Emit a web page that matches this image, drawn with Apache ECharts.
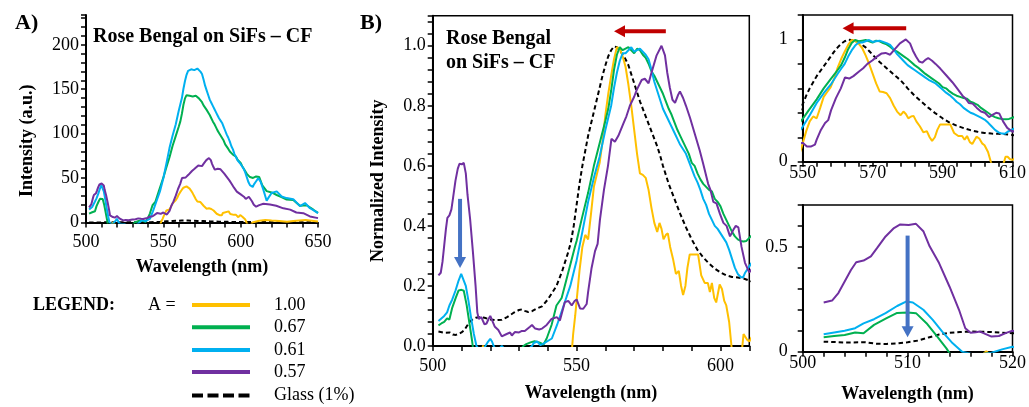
<!DOCTYPE html>
<html><head><meta charset="utf-8">
<script src="https://cdn.jsdelivr.net/npm/echarts@6/dist/echarts.min.js"></script>
<style>html,body{margin:0;padding:0;background:#fff}#c{width:1029px;height:407px}</style>
</head><body><div id="c"></div>
<script>
// ---------- DATA ----------
const seriesNames = ['1.00', '0.67', '0.61', '0.57', 'Glass (1%)'];
const seriesColors = ['#FFC000', '#00B050', '#00B0F0', '#7030A0', '#000000'];
// raw intensity (a.u.) at normalized value 1 for each spectrum (panel A peaks)
const peakIntensity = [41, 144, 175, 72.5, 2.2];

// normalized spectra: [wavelength (nm), normalized intensity]
const yellowNorm = [[502,-0.4],[508,-0.35],[514,-0.15],[517.5,0.002],[520,-0.12],[528,-0.3],[538,-0.3],[545,-0.2],[548,-0.06],[548.8,0.04],[549.5,0.1],[550,0.15],[551,0.25],[552,0.33],[553,0.37],[554,0.355],[555,0.44],[556,0.53],[557,0.57],[558,0.61],[559,0.68],[560,0.77],[561,0.84],[562,0.9],[563,0.955],[564,0.995],[565,0.99],[566,0.965],[567,0.93],[568,0.87],[569,0.8],[570,0.72],[571,0.64],[572,0.575],[573,0.57],[574,0.56],[575,0.52],[576,0.46],[577,0.41],[578,0.38],[578.8,0.41],[579.5,0.39],[580.2,0.355],[581,0.37],[581.7,0.375],[582.5,0.33],[583.5,0.29],[584.5,0.24],[585.5,0.25],[586.3,0.2],[587,0.17],[587.8,0.2],[588.5,0.26],[589.3,0.305],[592.2,0.305],[593.3,0.235],[594.5,0.21],[595.6,0.21],[596.3,0.18],[597,0.21],[597.8,0.16],[598.5,0.145],[599.7,0.205],[600.5,0.19],[601.3,0.15],[602,0.135],[603,0.08],[603.8,0.0],[605,-0.1],[606.5,-0.08],[607.6,0.0],[608,0.04],[608.6,0.04],[609.3,0.02],[610,0.015],[612,0.05],[616,0.07],[620,0.055],[625,0.04],[630,0.02],[634,0.04],[638,0.055],[642,0.07],[646,0.05],[650,0.03]];

const greenNorm = [[502,0.069],[503,0.075],[504,0.08],[505,0.092],[505.8,0.088],[506.8,0.128],[508,0.16],[509,0.185],[510,0.187],[510.8,0.184],[511.8,0.136],[512.7,0.08],[513.7,0.016],[514.3,-0.03],[516,-0.06],[520,-0.08],[525,-0.06],[530,-0.02],[531.5,0.0],[532.5,0.006],[534,0.012],[535.4,0.016],[537,0.012],[538.5,0.005],[539.6,0.025],[541.3,0.07],[543,0.135],[544.8,0.16],[547.1,0.245],[549.4,0.33],[550,0.35],[551.7,0.42],[554,0.51],[556,0.6],[558,0.675],[560,0.75],[561,0.79],[562,0.85],[563,0.92],[564,0.97],[565,0.995],[566,0.985],[567,0.99],[568,0.995],[569,0.985],[570,0.975],[571,0.99],[572,0.985],[573,0.97],[574,0.96],[575,0.94],[576,0.915],[577,0.9],[578,0.88],[579,0.86],[580,0.84],[581,0.815],[582,0.79],[583,0.77],[584,0.745],[585,0.72],[586,0.7],[587,0.68],[588,0.66],[589,0.64],[590,0.61],[591,0.6],[592,0.575],[593,0.555],[594,0.54],[595,0.53],[596,0.52],[597,0.515],[598,0.49],[599,0.48],[600,0.465],[601,0.44],[602,0.42],[603,0.4],[604,0.38],[605,0.365],[606,0.355],[607,0.35],[608,0.348],[609,0.35],[610,0.36],[611,0.37],[612,0.355],[614,0.29],[616.8,0.245],[620,0.235],[623.3,0.215],[626,0.2],[629.7,0.18],[634,0.175],[638.4,0.13],[642.7,0.135],[647,0.1],[650,0.075]];

const blueNorm = [[502,0.083],[504,0.1],[505,0.112],[505.8,0.135],[506.8,0.155],[507.9,0.184],[509,0.218],[509.9,0.24],[510.5,0.235],[511.5,0.2],[512.4,0.152],[513.3,0.096],[514.3,0.04],[515.2,0.0],[516,-0.01],[517,-0.012],[518,-0.005],[519,0.011],[520,0.024],[520.6,0.015],[521.4,-0.005],[523,-0.01],[524,0.0],[525,-0.01],[528,-0.03],[532,-0.02],[534.5,0.0],[535.1,0.01],[536.3,0.015],[537.4,0.003],[538.5,0.008],[539.7,0.015],[541.4,0.025],[543.2,0.07],[545.5,0.135],[547.8,0.2],[550,0.285],[552,0.38],[554,0.48],[556,0.56],[558,0.63],[560,0.72],[561,0.76],[562,0.8],[563,0.86],[564,0.91],[565,0.95],[566,0.975],[567,0.975],[568,0.985],[569,0.995],[570,0.98],[571,0.985],[572,0.99],[573,0.98],[574,0.97],[575,0.955],[576,0.92],[577,0.88],[578,0.85],[579,0.82],[580,0.79],[581,0.77],[582,0.75],[583,0.73],[584,0.71],[585,0.69],[586,0.67],[587,0.655],[588,0.64],[589,0.615],[590,0.59],[591,0.565],[592,0.545],[593,0.52],[594,0.49],[595,0.47],[596,0.44],[597,0.42],[598,0.4],[599,0.39],[600,0.375],[601,0.36],[602,0.345],[603,0.32],[604,0.29],[605,0.26],[606,0.24],[607,0.23],[607.8,0.228],[608.6,0.245],[610,0.265],[611.4,0.285],[613,0.26],[614.7,0.21],[616.8,0.14],[618,0.16],[620,0.19],[623.3,0.2],[626.5,0.167],[629.7,0.157],[634,0.15],[638.4,0.105],[641.6,0.125],[644.8,0.092],[647,0.08],[650,0.06]];

const purpleNorm = [[502,0.235],[502.8,0.244],[503.4,0.28],[504,0.335],[504.6,0.39],[505.1,0.427],[505.8,0.435],[506.5,0.455],[507.1,0.495],[507.9,0.55],[508.7,0.59],[509.3,0.607],[510.1,0.605],[510.8,0.61],[511.5,0.575],[512.1,0.503],[513,0.423],[514,0.31],[514.9,0.2],[515.5,0.112],[516,0.09],[516.5,0.093],[516.9,0.096],[517.4,0.085],[518,0.072],[518.7,0.075],[519.4,0.09],[520,0.1],[520.5,0.096],[521.6,0.064],[522.8,0.053],[524,0.032],[524.5,0.03],[525.7,0.04],[526.9,0.045],[527.5,0.035],[528.6,0.047],[530,0.045],[531,0.05],[532,0.05],[533.8,0.064],[534.5,0.07],[535.6,0.058],[537,0.055],[538,0.058],[539.6,0.07],[541.3,0.09],[543.1,0.096],[544.2,0.085],[545.9,0.146],[547.1,0.15],[548.3,0.135],[549.3,0.15],[550,0.155],[551.2,0.125],[552.3,0.124],[553.5,0.14],[554,0.18],[555.2,0.26],[556.4,0.316],[557.3,0.34],[558.1,0.42],[559.5,0.52],[560.9,0.6],[562.1,0.69],[563.3,0.68],[564.5,0.7],[566.2,0.74],[567.3,0.765],[568.5,0.8],[570,0.83],[570.9,0.853],[572.6,0.886],[573.7,0.89],[575,0.875],[576.1,0.913],[577.8,0.968],[579.5,1.0],[580.7,0.968],[581.5,0.91],[582.4,0.86],[583.3,0.82],[584.2,0.81],[585.2,0.835],[585.9,0.848],[587,0.826],[588,0.8],[589.4,0.76],[591.1,0.705],[592.8,0.65],[594,0.606],[595.7,0.54],[596.5,0.52],[597.5,0.48],[598.6,0.475],[599.8,0.44],[601,0.41],[602.1,0.4],[603.3,0.365],[604.4,0.386],[605.3,0.4],[606.2,0.395],[607.3,0.33],[608.5,0.277],[610,0.245],[612,0.27],[614.7,0.29],[619,0.28],[623,0.26],[627.6,0.22],[632,0.2],[636,0.155],[640.5,0.145],[644.8,0.094],[650,0.068]];

const glassNorm = [[502,0.048],[504,0.044],[506,0.045],[507,0.038],[508,0.037],[509,0.04],[510,0.045],[511,0.053],[512,0.068],[513,0.082],[514,0.09],[515,0.094],[516,0.096],[518,0.094],[520,0.088],[522,0.086],[524,0.087],[526,0.097],[528,0.11],[530,0.12],[531,0.122],[532,0.117],[533.2,0.113],[534.5,0.116],[536,0.124],[538,0.132],[540,0.155],[541,0.17],[542,0.185],[543,0.2],[544,0.225],[545,0.25],[546,0.28],[547,0.31],[548,0.345],[549,0.4],[550,0.47],[551,0.54],[552,0.6],[553,0.65],[554,0.7],[555,0.74],[556,0.78],[557,0.82],[558,0.86],[559,0.9],[560,0.935],[561,0.965],[562,0.985],[563,0.998],[564,0.995],[565,0.985],[566,0.97],[567,0.955],[568,0.935],[569,0.905],[570,0.875],[571,0.845],[572,0.815],[573,0.79],[574,0.765],[575,0.74],[576,0.715],[577,0.69],[578,0.665],[579,0.635],[580,0.6],[582,0.54],[584,0.49],[586,0.44],[588,0.395],[590,0.355],[592,0.32],[594,0.295],[596,0.275],[598,0.258],[600,0.245],[602,0.235],[604,0.23],[606,0.228],[608,0.225],[610,0.218],[615,0.2],[620,0.19],[630,0.17],[640,0.15],[650,0.13]];

// annotation arrows in data coordinates: [gridIndex, from, to, colour]
const arrowNotes = [
  [1, [581, 1.048], [563, 1.048], '#C00000'],
  [1, [509.5, 0.49], [509.5, 0.26], '#4472C4'],
  [2, [579.6, 1.091], [561.4, 1.091], '#C00000'],
  [3, [510, 0.554], [510, 0.069], '#4472C4']
];

// ---------- CHART ----------
const FONT = '"Liberation Serif", "Times New Roman", serif';
const curves = [yellowNorm, greenNorm, blueNorm, purpleNorm, glassNorm];
const drawOrder = [4, 0, 1, 2, 3];
const chart = echarts.init(document.getElementById('c'));

function axis(gridIndex, min, max, interval, extra) {
  return Object.assign({
    gridIndex, type: 'value', min, max, interval,
    axisLine: { show: true, onZero: false, lineStyle: { color: '#000', width: 2 } },
    axisTick: { show: true, inside: false, length: 5, lineStyle: { color: '#000', width: 1.5 } },
    minorTick: { show: true, splitNumber: 5, length: 5, lineStyle: { color: '#000', width: 1.5 } },
    splitLine: { show: false },
    axisLabel: { fontFamily: FONT, fontSize: 18, color: '#000', showMaxLabel: false },
    nameTextStyle: { fontFamily: FONT, fontSize: 18, fontWeight: 'bold', color: '#000' },
    nameLocation: 'middle'
  }, extra || {});
}

const boxGrid = { show: true, borderColor: '#000', borderWidth: 1.5, backgroundColor: 'transparent' };
const grids = [
  { left: 86, top: 15, width: 232, height: 207.5 },
  Object.assign({ left: 432.7, top: 15.7, width: 316.6, height: 335.3 }, boxGrid),
  Object.assign({ left: 802.7, top: 15, width: 213.3, height: 146.7 }, boxGrid),
  Object.assign({ left: 802.7, top: 205, width: 213.3, height: 146.7 }, boxGrid)
];

const xAxes = [
  axis(0, 500, 650, 50, { name: 'Wavelength (nm)', nameGap: 36, axisLabel: { fontFamily: FONT, fontSize: 18, color: '#000', margin: 11 } }),
  axis(1, 500, 610, 50, { name: 'Wavelength (nm)', nameGap: 38, axisLabel: { fontFamily: FONT, fontSize: 18, color: '#000', margin: 11, showMaxLabel: false } }),
  axis(2, 550, 610, 20, { axisLabel: { fontFamily: FONT, fontSize: 18, color: '#000', margin: 3 } }),
  axis(3, 500, 520, 10, { name: 'Wavelength (nm)', nameGap: 34, axisLabel: { fontFamily: FONT, fontSize: 18, color: '#000', margin: 3 } })
];
const yAxes = [
  axis(0, 0, 233.5, 50, { name: 'Intensity (a.u.)', nameGap: 50,
    nameTextStyle: { fontFamily: FONT, fontSize: 18, fontWeight: 'bold', color: '#000', padding: [0, 44, 0, 0] },
    axisLabel: { fontFamily: FONT, fontSize: 18, color: '#000', margin: 7, showMaxLabel: false } }),
  axis(1, 0, 1.1, 0.2, { name: 'Normalized Intensity', nameGap: 45,
    axisLabel: { fontFamily: FONT, fontSize: 18, color: '#000', margin: 7, showMaxLabel: false, formatter: v => v.toFixed(1) } }),
  axis(2, 0, 1.2, 1, { axisLabel: { fontFamily: FONT, fontSize: 18, color: '#000', margin: 15, showMaxLabel: false } }),
  axis(3, 0, 0.7, 0.5, { axisLabel: { fontFamily: FONT, fontSize: 18, color: '#000', margin: 15, showMaxLabel: false } })
];

const series = [];
for (let g = 0; g < 4; g++) {
  for (const i of drawOrder) {
    const data = g === 0 ? curves[i].map(p => [p[0], p[1] * peakIntensity[i]]) : curves[i];
    series.push({
      type: 'line', name: seriesNames[i], xAxisIndex: g, yAxisIndex: g, data,
      symbol: 'none', showSymbol: false, clip: true, silent: true, animation: false,
      lineStyle: { color: seriesColors[i], width: 2, type: i === 4 ? [4.5, 3] : 'solid' },
      itemStyle: { color: seriesColors[i] }
    });
  }
}

chart.setOption({ animation: false, grid: grids, xAxis: xAxes, yAxis: yAxes, series });

// ---------- annotations ----------
const graphics = [];
function addText(text, x, y, size, bold, align) {
  graphics.push({ type: 'text', x, y, silent: true, z: 100,
    style: { text, fill: '#000', font: (bold ? 'bold ' : '') + size + 'px ' + FONT,
      textAlign: align || 'left', textVerticalAlign: 'middle', align: align || 'left', verticalAlign: 'middle' } });
}
addText('A)', 15, 23, 22, true);
addText('B)', 360, 23, 22, true);
addText('Rose Bengal on SiFs \u2013 CF', 93, 37, 20, true);
addText('Rose Bengal', 446, 39, 20, true);
addText('on SiFs \u2013 CF', 446, 63, 20, true);

// legend
const legendRows = [305, 327.3, 350, 372, 395.5];
addText('LEGEND:', 33, 305, 18, true);
addText('A =', 148, 305, 18, false);
seriesNames.forEach((n, i) => {
  graphics.push({ type: 'line', silent: true, z: 100,
    shape: { x1: 192, y1: legendRows[i], x2: 250, y2: legendRows[i] },
    style: { stroke: seriesColors[i], lineWidth: 4, lineDash: i === 4 ? [11, 4.5] : null } });
  addText(n, 274, legendRows[i], 18, false);
});

// arrows
arrowNotes.forEach(([g, from, to, color]) => {
  const p0 = chart.convertToPixel({ gridIndex: g }, from);
  const p1 = chart.convertToPixel({ gridIndex: g }, to);
  const dx = p1[0] - p0[0], dy = p1[1] - p0[1], L = Math.hypot(dx, dy);
  const ux = dx / L, uy = dy / L, nx = -uy, ny = ux;
  const headLen = 11, headHalf = 6;
  const bx = p1[0] - ux * headLen, by = p1[1] - uy * headLen;
  graphics.push({ type: 'line', silent: true, z: 100,
    shape: { x1: p0[0], y1: p0[1], x2: bx + ux, y2: by + uy },
    style: { stroke: color, lineWidth: 4 } });
  graphics.push({ type: 'polygon', silent: true, z: 100,
    shape: { points: [[p1[0], p1[1]], [bx + nx * headHalf, by + ny * headHalf], [bx - nx * headHalf, by - ny * headHalf]] },
    style: { fill: color } });
});

chart.setOption({ graphic: graphics });
</script>
</body></html>
